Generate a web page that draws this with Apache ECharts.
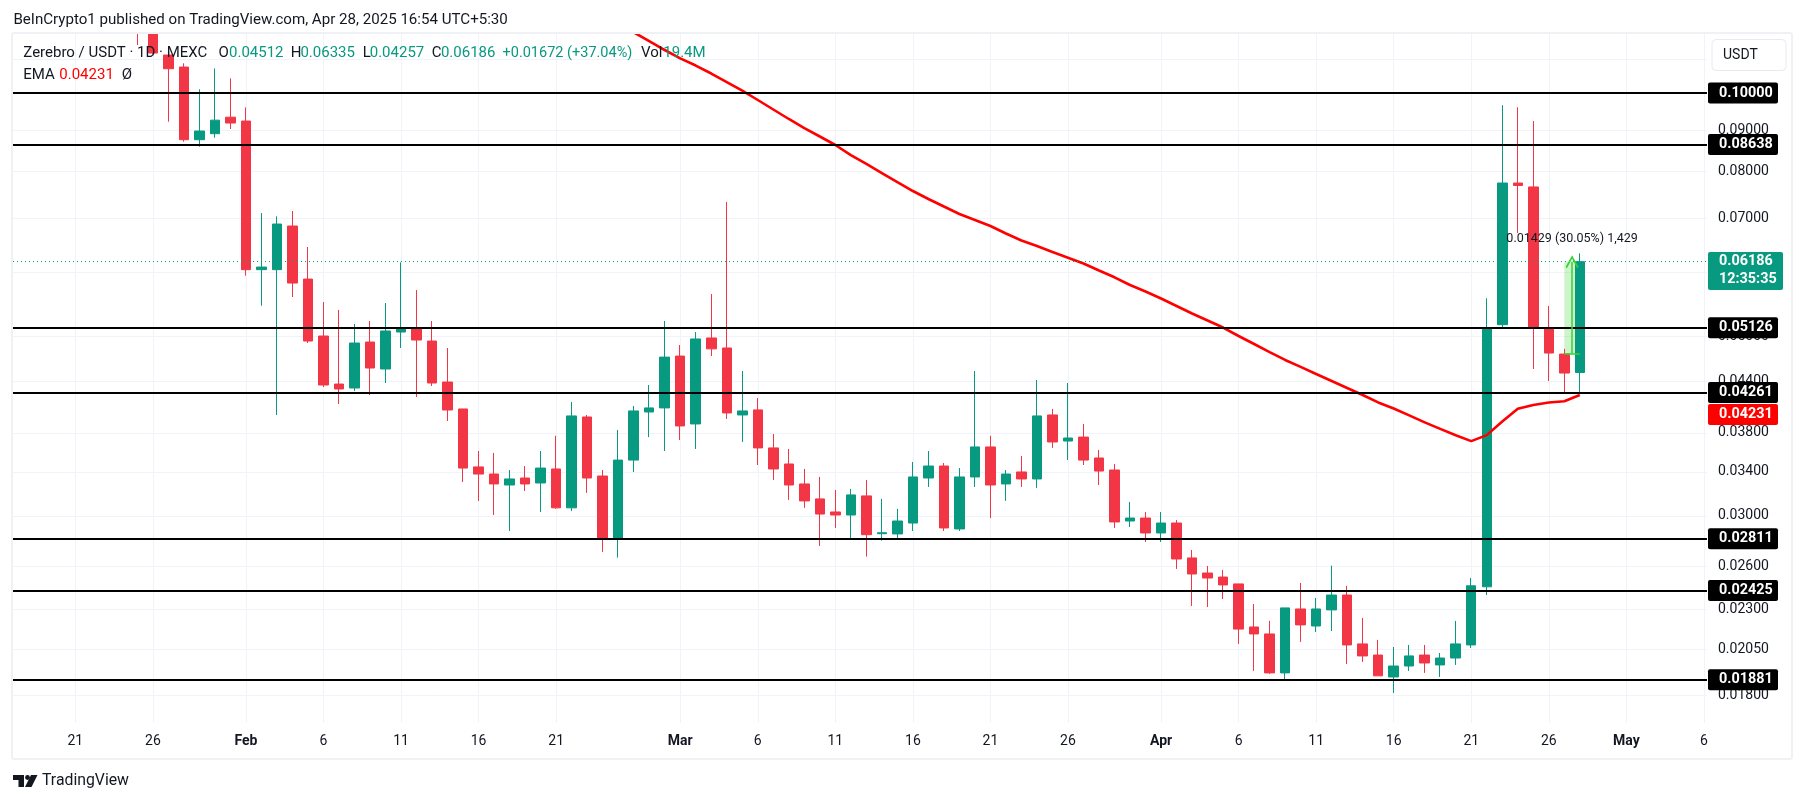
<!DOCTYPE html>
<html>
<head>
<meta charset="utf-8">
<title>Zerebro / USDT</title>
<style>
    html, body { margin: 0; padding: 0; background: #fff; }
    #chart { width: 1805px; height: 803px; }
</style>
<script src="https://cdn.jsdelivr.net/npm/echarts@6/dist/echarts.min.js"></script>
</head>
<body>
<div id="chart"></div>
<script>
// --- Data. Day numbers count from Jan 21 = 0 ---
const firstCandleDay = 4;
const opens = [0.12700,0.12200,0.11142,0.10767,0.08755,0.08906,0.09335,0.09233,0.06047,0.06047,0.06847,0.05887,0.05006,0.04366,0.04317,0.04921,0.04557,0.05063,0.05107,0.04935,0.04391,0.04067,0.03448,0.03379,0.03275,0.03341,0.03294,0.03428,0.03069,0.03975,0.03360,0.02816,0.03516,0.04032,0.04079,0.04728,0.03897,0.04978,0.04838,0.03998,0.04056,0.03640,0.03477,0.03285,0.03148,0.03033,0.03007,0.03175,0.02851,0.02849,0.02939,0.03341,0.03457,0.02890,0.03351,0.03650,0.03285,0.03399,0.03332,0.03998,0.03712,0.03754,0.03537,0.03418,0.02956,0.02981,0.02857,0.02939,0.02661,0.02549,0.02520,0.02471,0.02186,0.02143,0.01918,0.02301,0.02192,0.02295,0.02394,0.02083,0.02018,0.01896,0.01956,0.02018,0.01962,0.02001,0.02077,0.02451,0.05170,0.07739,0.07653,0.05122,0.04755,0.04512];
const highs = [0.13000,0.12600,0.11365,0.10883,0.10106,0.10725,0.10427,0.09598,0.07105,0.07039,0.07146,0.06450,0.05515,0.05391,0.05180,0.05225,0.05499,0.06175,0.05706,0.05225,0.04838,0.04067,0.03608,0.03588,0.03418,0.03457,0.03608,0.03768,0.04149,0.03998,0.03418,0.03831,0.04102,0.04354,0.05225,0.04879,0.05063,0.05642,0.07332,0.04531,0.04196,0.03787,0.03629,0.03428,0.03351,0.03229,0.03239,0.03322,0.03148,0.03060,0.03497,0.03608,0.03487,0.03437,0.04531,0.03768,0.03418,0.03557,0.04416,0.04067,0.04379,0.03897,0.03619,0.03477,0.03121,0.03033,0.03033,0.02964,0.02722,0.02601,0.02571,0.02471,0.02334,0.02224,0.02308,0.02478,0.02374,0.02603,0.02458,0.02243,0.02107,0.02065,0.02077,0.02077,0.02030,0.02224,0.02513,0.05574,0.09660,0.09602,0.09233,0.05453,0.04826,0.06335];
const lows = [0.11464,0.11175,0.09216,0.08705,0.08582,0.08805,0.09026,0.05944,0.05457,0.03998,0.05594,0.04907,0.04329,0.04125,0.04280,0.04232,0.04379,0.04838,0.04208,0.04342,0.03930,0.03303,0.03130,0.03007,0.02873,0.03220,0.03033,0.03060,0.03041,0.03202,0.02707,0.02663,0.03399,0.03754,0.03608,0.03723,0.03629,0.04728,0.03953,0.03702,0.03467,0.03322,0.03139,0.03069,0.02753,0.02898,0.02816,0.02671,0.02795,0.02816,0.02873,0.03257,0.02873,0.02873,0.03257,0.02981,0.03130,0.03257,0.03248,0.03640,0.03516,0.03467,0.03275,0.02898,0.02906,0.02785,0.02785,0.02579,0.02321,0.02314,0.02367,0.02083,0.01929,0.01913,0.01885,0.02095,0.02155,0.02161,0.01967,0.01979,0.01902,0.01812,0.01929,0.01918,0.01896,0.01962,0.02059,0.02394,0.05137,0.06712,0.04557,0.04404,0.04268,0.04257];
const closes = [0.12200,0.11206,0.10716,0.08755,0.08974,0.09256,0.09181,0.06047,0.06092,0.06886,0.05821,0.04935,0.04354,0.04305,0.04907,0.04570,0.05078,0.05107,0.04949,0.04379,0.04055,0.03437,0.03379,0.03285,0.03332,0.03285,0.03437,0.03069,0.03987,0.03341,0.02816,0.03516,0.04044,0.04079,0.04714,0.03875,0.04964,0.04826,0.04021,0.04044,0.03640,0.03428,0.03275,0.03130,0.03015,0.03007,0.03184,0.02843,0.02859,0.02956,0.03351,0.03457,0.02898,0.03351,0.03650,0.03275,0.03379,0.03332,0.03987,0.03702,0.03744,0.03516,0.03408,0.02948,0.02981,0.02857,0.02939,0.02653,0.02542,0.02513,0.02464,0.02173,0.02143,0.01918,0.02308,0.02199,0.02301,0.02394,0.02077,0.02013,0.01902,0.01956,0.02013,0.01973,0.02001,0.02083,0.02458,0.05126,0.07739,0.07685,0.05137,0.04769,0.04505,0.06186];

const firstEmaDay = 36;
const emaValues = [0.11887,0.11596,0.11303,0.11035,0.10814,0.10571,0.10318,0.10071,0.09803,0.09541,0.09287,0.09051,0.08835,0.08624,0.08381,0.08170,0.07963,0.07761,0.07565,0.07395,0.07238,0.07085,0.06965,0.06847,0.06703,0.06570,0.06468,0.06359,0.06256,0.06154,0.06033,0.05917,0.05788,0.05682,0.05570,0.05453,0.05337,0.05232,0.05128,0.05006,0.04893,0.04782,0.04676,0.04584,0.04492,0.04404,0.04317,0.04232,0.04143,0.04072,0.03993,0.03914,0.03843,0.03773,0.03711,0.03775,0.03925,0.04069,0.04114,0.04143,0.04157,0.04231];

const tickDays = [0,5,11,16,21,26,31,39,44,49,54,59,64,70,75,80,85,90,95,100,105];
const tickLabels = ['21','26','Feb','6','11','16','21','Mar','6','11','16','21','26','Apr','6','11','16','21','26','May','6'];
const monthLabels = ['Feb','Mar','Apr','May'];

const priceTicks = [0.11,0.10,0.09,0.08,0.07,0.06,0.05,0.044,0.038,0.034,0.03,0.026,0.023,0.0205,0.018];
const levels = [0.10000,0.08638,0.05126,0.04261,0.02811,0.02425,0.01881];

const lastPrice = 0.06186;
const countdown = '12:35:35';
const lastEma = 0.04231;
const measureFrom = 0.04757;
const measureLabel = '0.01429 (30.05%) 1,429';

const titleText = 'BeInCrypto1 published on TradingView.com, Apr 28, 2025 16:54 UTC+5:30';
const symbolText = 'Zerebro / USDT · 1D · MEXC';
const ohlcNames = ['O','H','L','C'];
const ohlcValues = ['0.04512','0.06335','0.04257','0.06186'];
const changeText = '+0.01672 (+37.04%)';
const volValue = '19.4M';

const GREEN = '#089981';
const RED = '#f23645';
const INK = '#131722';
const FONT = 'Roboto, sans-serif';

// --- Build chart ---
const chart = echarts.init(document.getElementById('chart'));

const candleData = opens.map((o, i) => [firstCandleDay + i, o, closes[i], lows[i], highs[i]]);
const emaData = emaValues.map((v, i) => [firstEmaDay + i, v]);
const lastDay = firstCandleDay + opens.length - 1;
const rightEdge = 105.2;

function headerText(x, y, text, fill, size) {
    return {
        type: 'text', x: x, y: y, z: 100, silent: true,
        style: { text: text, fill: fill || INK, font: (size || 15) + 'px ' + FONT, textVerticalAlign: 'middle' }
    };
}

// Price tag to the right of the pane: text starts 11px in from the tag's left edge
function priceTag(text, background, tagWidth) {
    return {
        show: true,
        formatter: text,
        color: '#fff',
        backgroundColor: background,
        borderRadius: 2,
        fontFamily: FONT,
        fontSize: 14.4,
        fontWeight: 'bold',
        width: tagWidth - 11,
        align: 'left',
        padding: [4, 0, 3, 11]
    };
}

const ohlcX = [218.5, 290.8, 362.8, 431.7];
const ohlcValueX = [229, 300.4, 369.7, 440.9];
const headerItems = [
    headerText(13.4, 20, titleText, INK, 15.1),
    headerText(23.3, 53.5, symbolText),
    headerText(502.5, 53.5, changeText, GREEN, 14.5),
    headerText(641, 53.5, 'Vol'),
    headerText(663.3, 53.5, volValue, GREEN),
    headerText(23.3, 75, 'EMA'),
    headerText(59.3, 75, lastEma.toFixed(5), '#ff0000'),
    headerText(121.7, 75, 'Ø')
];
ohlcNames.forEach((n, i) => {
    headerItems.push(headerText(ohlcX[i], 53.5, n));
    headerItems.push(headerText(ohlcValueX[i], 53.5, ohlcValues[i], GREEN));
});

chart.setOption({
    animation: false,
    backgroundColor: '#fff',
    grid: { left: 13, right: 98, top: 34, bottom: 80 },
    xAxis: {
        type: 'value',
        min: -4.02,
        max: rightEdge,
        axisLine: { show: false },
        axisTick: { show: false, customValues: tickDays },
        splitLine: { show: true, lineStyle: { color: '#f0f3fa', width: 1 } },
        axisLabel: {
            customValues: tickDays,
            margin: 11,
            color: INK,
            fontFamily: FONT,
            fontSize: 14,
            formatter: v => {
                const label = tickLabels[tickDays.indexOf(v)];
                return monthLabels.includes(label) ? '{m|' + label + '}' : label;
            },
            rich: { m: { fontWeight: 'bold', fontSize: 14, fontFamily: FONT, color: INK } }
        }
    },
    yAxis: {
        type: 'log',
        position: 'right',
        min: 0.01663,
        max: 0.1183,
        axisLine: { show: false },
        axisTick: { show: false, customValues: priceTicks },
        splitLine: { show: true, lineStyle: { color: '#f0f3fa', width: 1 } },
        axisLabel: {
            customValues: priceTicks,
            margin: 11,
            color: INK,
            fontFamily: FONT,
            fontSize: 14,
            formatter: v => v.toFixed(5)
        }
    },
    series: [
        {
            type: 'candlestick',
            name: 'Zerebro / USDT',
            data: candleData,
            barWidth: 10,
            z: 3,
            itemStyle: { color: GREEN, color0: RED, borderColor: GREEN, borderColor0: RED, borderWidth: 1 },
            markLine: {
                silent: true,
                symbol: 'none',
                precision: 6,
                z: 5,
                data: [{
                    yAxis: lastPrice,
                    lineStyle: { color: GREEN, type: [1, 3], width: 1 },
                    label: { show: false }
                }].concat(levels.map(v => ({
                    yAxis: v,
                    lineStyle: { color: '#000', type: 'solid', width: 2 },
                    label: Object.assign(priceTag(v.toFixed(5), '#000', 70), { position: 'end', distance: 1 })
                })))
            }
        },
        {
            type: 'line',
            name: 'EMA',
            data: emaData,
            showSymbol: false,
            z: 4,
            lineStyle: { color: '#ff0000', width: 2.6 },
            markArea: {
                silent: true,
                itemStyle: { color: 'rgba(76, 215, 70, 0.28)' },
                data: [[{ coord: [lastDay - 1, measureFrom] }, { coord: [lastDay, lastPrice] }]]
            },
            markLine: {
                silent: true,
                symbol: 'none',
                precision: 6,
                lineStyle: { color: '#35d335', type: 'solid', width: 1.5 },
                label: { show: false },
                data: [
                    [{ coord: [lastDay - 1, measureFrom] }, { coord: [lastDay, measureFrom] }],
                    [
                        { coord: [lastDay - 0.5, measureFrom], symbol: 'none' },
                        { coord: [lastDay - 0.5, lastPrice], symbol: 'path://M0,10 L5,0 L10,10 L9,11 L5,3 L1,11 Z', symbolSize: 13 }
                    ]
                ]
            },
            markPoint: {
                silent: true,
                symbol: 'rect',
                symbolSize: 0,
                z: 6,
                data: [
                    {
                        coord: [lastDay - 0.5, lastPrice],
                        label: {
                            show: true, position: 'top', offset: [0, -11], formatter: measureLabel,
                            color: INK, fontFamily: FONT, fontSize: 12.5
                        }
                    },
                    {
                        coord: [rightEdge, lastPrice],
                        label: Object.assign(priceTag(lastPrice.toFixed(5) + '\n' + countdown, GREEN, 75), {
                            position: 'right', distance: 1, offset: [0, 9.2], lineHeight: 18, padding: [1, 0, 1, 11]
                        })
                    },
                    {
                        coord: [rightEdge, lastEma],
                        label: Object.assign(priceTag(lastEma.toFixed(5), '#ff0000', 70), {
                            position: 'right', distance: 1, offset: [0, 19.5]
                        })
                    }
                ]
            }
        }
    ],
    graphic: [
        // Candles that run off the top stop at the frame, the title strip stays white
        {
            type: 'rect', z: 90, silent: true,
            shape: { x: 0, y: 0, width: 1805, height: 33 },
            style: { fill: '#fff' }
        },
        // Frame around the chart
        {
            type: 'rect', z: 95, silent: true,
            shape: { x: 12, y: 33, width: 1780, height: 726, r: 2 },
            style: { fill: 'none', stroke: '#f0f1f4', lineWidth: 2 }
        },
        // Currency button
        {
            type: 'rect', z: 50, silent: true,
            shape: { x: 1712, y: 39.5, width: 74, height: 31, r: 4 },
            style: { fill: '#fff', stroke: '#e8eaef', lineWidth: 1 }
        },
        {
            type: 'text', z: 51, x: 1723, y: 55, silent: true,
            style: { text: 'USDT', fill: INK, font: '14px ' + FONT, textVerticalAlign: 'middle' }
        },
        // TradingView logo and name
        {
            type: 'polygon', z: 50, silent: true,
            shape: { points: [[13, 775], [24, 775], [24, 787], [18.5, 787], [18.5, 780], [13, 780]] },
            style: { fill: '#131722' }
        },
        {
            type: 'circle', z: 50, silent: true,
            shape: { cx: 27.5, cy: 777.5, r: 2.4 },
            style: { fill: '#131722' }
        },
        {
            type: 'polygon', z: 50, silent: true,
            shape: { points: [[25, 787], [31, 775], [37.5, 775], [31.5, 787]] },
            style: { fill: '#131722' }
        },
        {
            type: 'text', z: 50, x: 42, y: 781.5, silent: true,
            style: { text: 'TradingView', fill: INK, font: '15.8px ' + FONT, textVerticalAlign: 'middle' }
        }
    ].concat(headerItems)
});

window.addEventListener('resize', () => chart.resize());
</script>
</body>
</html>
